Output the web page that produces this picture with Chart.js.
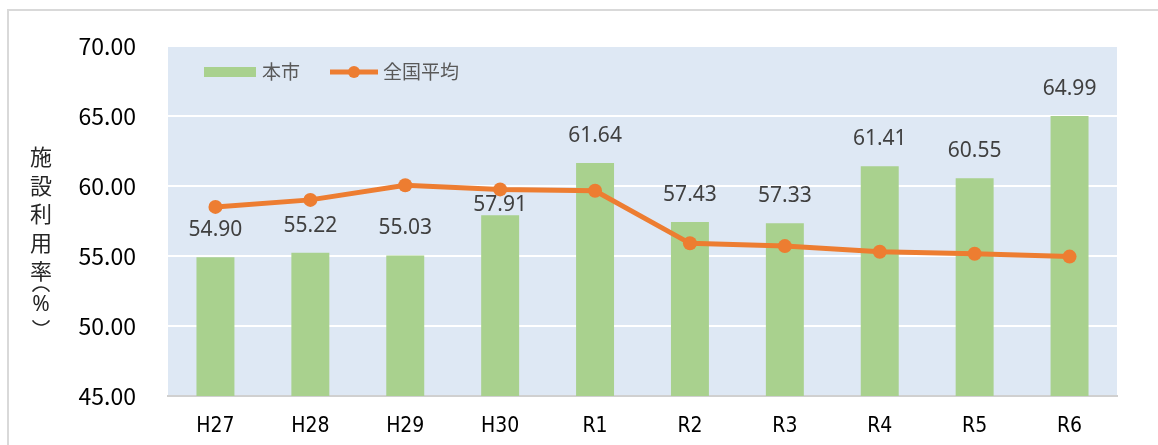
<!DOCTYPE html>
<html>
<head>
<meta charset="utf-8">
<script src="https://cdn.jsdelivr.net/npm/chart.js@4.4.1/dist/chart.umd.min.js"></script>
<style>
  body { margin: 0; background: #fff; }
  #wrap { position: relative; width: 1158px; height: 445px; }
  #frame { position: absolute; left: 7px; top: 9px; width: 1160px; height: 450px; border: 2px solid #d9d9d9; box-sizing: border-box; }
  canvas { position: absolute; left: 0; top: 0; }
</style>
</head>
<body>
<div id="wrap">
  <div id="frame"></div>
  <canvas id="chart" width="1158" height="445"></canvas>
</div>
<script>
// data
const years = ['H27', 'H28', 'H29', 'H30', 'R1', 'R2', 'R3', 'R4', 'R5', 'R6'];
const cityRate = [54.90, 55.22, 55.03, 57.91, 61.64, 57.43, 57.33, 61.41, 60.55, 64.99];
const nationalAvg = [58.5, 59.0, 60.05, 59.75, 59.65, 55.9, 55.7, 55.3, 55.15, 54.95];
const yTicks = [45, 50, 55, 60, 65, 70];

const GREEN = '#a9d18e';
const ORANGE = '#ed7d31';

// plot background + legend + y title + bar labels
const decor = {
  id: 'decor',
  beforeDraw(chart) {
    const { ctx, chartArea: a } = chart;
    ctx.save();
    ctx.fillStyle = '#dee8f4';
    ctx.fillRect(a.left, a.top, a.right - a.left, a.bottom - a.top);
    ctx.restore();
  },
  afterDatasetsDraw(chart) {
    const ctx = chart.ctx;
    ctx.save();
    // value labels above bars (H30 label sits lower, under the line)
    const meta = chart.getDatasetMeta(0);
    ctx.font = '21px "Noto Sans", sans-serif';
    ctx.fillStyle = '#404040';
    ctx.textAlign = 'center';
    ctx.textBaseline = 'middle';
    meta.data.forEach((bar, i) => {
      const off = years[i] === 'H30' ? 10 : 27;
      ctx.fillText(cityRate[i].toFixed(2), bar.x, bar.y - off);
    });

    // legend
    ctx.font = '19px "Noto Sans CJK JP", sans-serif';
    ctx.textAlign = 'left';
    ctx.fillStyle = GREEN;
    ctx.fillRect(204, 67, 52, 10);
    ctx.fillStyle = '#595959';
    ctx.fillText(chart.data.datasets[0].label, 262, 72);
    ctx.strokeStyle = ORANGE;
    ctx.lineWidth = 5;
    ctx.beginPath();
    ctx.moveTo(330, 72);
    ctx.lineTo(378, 72);
    ctx.stroke();
    ctx.fillStyle = ORANGE;
    ctx.beginPath();
    ctx.arc(354, 72, 6, 0, Math.PI * 2);
    ctx.fill();
    ctx.fillStyle = '#595959';
    ctx.fillText(chart.data.datasets[1].label, 383, 72);

    // vertical y-axis title
    const title = ['施', '設', '利', '用', '率'];
    const ys = [157, 186, 214, 243, 271];
    ctx.font = '22px "Noto Sans CJK JP", sans-serif';
    ctx.fillStyle = '#262626';
    ctx.textAlign = 'center';
    title.forEach((ch, i) => ctx.fillText(ch, 41, ys[i]));
    ctx.font = '21px "Noto Sans", sans-serif';
    ctx.fillText('%', 41, 305);
    // vertical brackets as arcs
    ctx.strokeStyle = '#262626';
    ctx.lineWidth = 1.6;
    ctx.beginPath();
    ctx.arc(41, 297, 10, Math.PI * 1.18, Math.PI * 1.82);
    ctx.stroke();
    ctx.beginPath();
    ctx.arc(41, 315, 10, Math.PI * 0.18, Math.PI * 0.82);
    ctx.stroke();
    ctx.restore();
  }
};

new Chart(document.getElementById('chart'), {
  data: {
    labels: years,
    datasets: [
      {
        type: 'bar',
        label: '本市',
        data: cityRate,
        backgroundColor: GREEN,
        categoryPercentage: 1,
        barPercentage: 0.4,
        order: 2
      },
      {
        type: 'line',
        label: '全国平均',
        data: nationalAvg,
        borderColor: ORANGE,
        backgroundColor: ORANGE,
        borderWidth: 5,
        pointRadius: 7,
        pointBackgroundColor: ORANGE,
        pointBorderWidth: 0,
        tension: 0,
        order: 1
      }
    ]
  },
  options: {
    responsive: false,
    animation: false,
    layout: { padding: { top: 33, right: 41 } },
    plugins: { legend: { display: false }, tooltip: { enabled: false } },
    scales: {
      x: {
        grid: { display: false },
        border: { color: '#d0d0d0', width: 2 },
        ticks: {
          color: '#000',
          font: { family: '"Liberation Sans Narrow", "DejaVu Sans Condensed", sans-serif', size: 21 },
          padding: 10
        },
        afterFit(s) { s.height = 49; }
      },
      y: {
        min: yTicks[0],
        max: yTicks[yTicks.length - 1],
        afterBuildTicks(s) { s.ticks = yTicks.map(v => ({ value: v })); },
        grid: { color: '#ffffff', lineWidth: 2, drawTicks: false },
        border: { display: false },
        ticks: {
          color: '#000',
          font: { family: '"Noto Sans CJK JP", sans-serif', size: 23 },
          padding: 32,
          callback: v => Number(v).toFixed(2)
        },
        afterFit(s) { s.width = 168; }
      }
    }
  },
  plugins: [decor]
});
</script>
</body>
</html>
